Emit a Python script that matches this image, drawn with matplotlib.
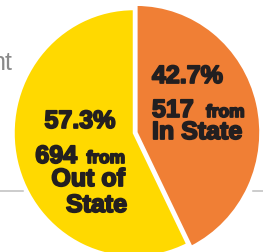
import matplotlib
matplotlib.use('Agg')
import matplotlib.pyplot as plt
import matplotlib.patheffects as pe

# ---- data ----
categories = ['In State', 'Out of State']
counts = [517, 694]
percent_labels = ['42.7%', '57.3%']
count_labels = ['517', '694']
colors = ['#F07F35', '#FFD900']

W, H = 263, 252
fig = plt.figure(figsize=(W / 100, H / 100), dpi=100)
ax = fig.add_axes([0, 0, 1, 1])

wedges, _ = ax.pie(counts, colors=colors, startangle=90, counterclock=False,
                   explode=[0.02, 0],
                   wedgeprops=dict(edgecolor='white', linewidth=1.8))
wedges[0].set_radius(1.03)

# pixel scale of the pie (slightly elliptical as in the reference)
sx, sy = 120.5, 124.0
cx, cy = 134.0, 133.0
ax.set_aspect('auto')
ax.set_xlim(-cx / sx, (W - cx) / sx)
ax.set_ylim(-(H - cy) / sy, cy / sy)
ax.axis('off')

# background grey rule (interrupted around the pie)
yline = (cy - 191) / sy
ax.axhline(yline, xmin=0, xmax=23 / W, color='#BEBEBE', lw=1.1, zorder=0)
ax.axhline(yline, xmin=253 / W, xmax=1, color='#BEBEBE', lw=1.1, zorder=0)

def fx(px):
    return px / W

def fy(py):
    return 1 - py / H

txt_color = '#231F20'
fam = ['Liberation Sans', 'DejaVu Sans']
eff = [pe.withStroke(linewidth=1.3, foreground=txt_color)]
big, small = 18, 12.5

# cut-off grey heading text at the left
fig.text(fx(12), fy(70), 'nt', ha='right', va='baseline', fontsize=18,
         color='#8A8A8A', family=fam)

# In State labels (orange)
fig.text(fx(152), fy(83), percent_labels[0], ha='left', va='baseline',
         fontsize=big, fontweight='bold', color=txt_color, family=fam, path_effects=eff)
fig.text(fx(152), fy(117), count_labels[0], ha='left', va='baseline',
         fontsize=big, fontweight='bold', color=txt_color, family=fam, path_effects=eff)
fig.text(fx(206), fy(117), 'from', ha='left', va='baseline',
         fontsize=small, fontweight='bold', color=txt_color, family=fam, path_effects=eff)
fig.text(fx(152), fy(139), 'In State', ha='left', va='baseline',
         fontsize=big, fontweight='bold', color=txt_color, family=fam, path_effects=eff)

# Out of State labels (yellow)
fig.text(fx(80), fy(128), percent_labels[1], ha='center', va='baseline',
         fontsize=big, fontweight='bold', color=txt_color, family=fam, path_effects=eff)
fig.text(fx(77), fy(163), count_labels[1], ha='right', va='baseline',
         fontsize=big, fontweight='bold', color=txt_color, family=fam, path_effects=eff)
fig.text(fx(125), fy(163), 'from', ha='right', va='baseline',
         fontsize=small, fontweight='bold', color=txt_color, family=fam, path_effects=eff)
fig.text(fx(125), fy(186), 'Out of', ha='right', va='baseline',
         fontsize=big, fontweight='bold', color=txt_color, family=fam, path_effects=eff)
fig.text(fx(127), fy(212), 'State', ha='right', va='baseline',
         fontsize=big, fontweight='bold', color=txt_color, family=fam, path_effects=eff)

fig.savefig('out.png', dpi=100)
